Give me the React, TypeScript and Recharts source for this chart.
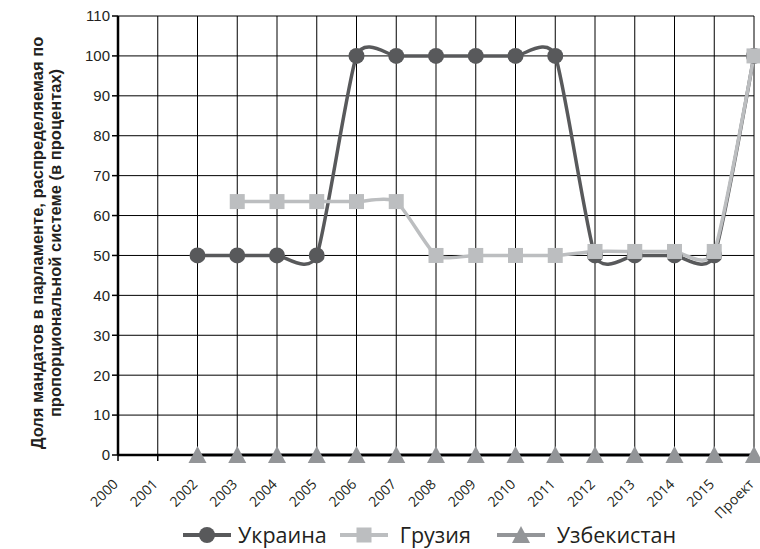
import { LineChart, Line, XAxis, YAxis, CartesianGrid, Legend } from 'recharts';

const years = ['2000', '2001', '2002', '2003', '2004', '2005', '2006', '2007', '2008', '2009', '2010', '2011', '2012', '2013', '2014', '2015', 'Проект'];
const ukraine = [null, null, 50, 50, 50, 50, 100, 100, 100, 100, 100, 100, 50, 50, 50, 50, 100];
const georgia = [null, null, null, 63.5, 63.5, 63.5, 63.5, 63.5, 50, 50, 50, 50, 51, 51, 51, 51, 100];
const uzbekistan = [null, null, 0, 0, 0, 0, 0, 0, 0, 0, 0, 0, 0, 0, 0, 0, 0];
const yTicks = [0, 10, 20, 30, 40, 50, 60, 70, 80, 90, 100, 110];

const data = years.map((year, i) => ({
  year,
  ukraine: ukraine[i],
  georgia: georgia[i],
  uzbekistan: uzbekistan[i],
}));

const series = [
  { key: 'ukraine', name: 'Украина', color: '#58595b', shape: 'circle', gap: 7, after: 13 },
  { key: 'georgia', name: 'Грузия', color: '#bcbec0', shape: 'square', gap: 12, after: 26 },
  { key: 'uzbekistan', name: 'Узбекистан', color: '#939598', shape: 'triangle', gap: 12, after: 0 },
];

// smoothed line like the spreadsheet one (cardinal spline, a little tension)
function smooth(tension: number) {
  const k = (1 - tension) / 6;
  return (ctx: any) => {
    let x0 = NaN, y0 = NaN, x1 = NaN, y1 = NaN, x2 = NaN, y2 = NaN, pt = 0, line: number = NaN;
    const bez = (x: number, y: number) =>
      ctx.bezierCurveTo(x1 + k * (x2 - x0), y1 + k * (y2 - y0), x2 + k * (x1 - x), y2 + k * (y1 - y), x2, y2);
    return {
      areaStart() { line = 0; },
      areaEnd() { line = NaN; },
      lineStart() { x0 = x1 = x2 = y0 = y1 = y2 = NaN; pt = 0; },
      lineEnd() {
        if (pt === 2) ctx.lineTo(x2, y2);
        else if (pt === 3) bez(x1, y1);
        if (line || (line !== 0 && pt === 1)) ctx.closePath();
        line = 1 - line;
      },
      point(x: number, y: number) {
        x = +x; y = +y;
        if (pt === 0) { pt = 1; line ? ctx.lineTo(x, y) : ctx.moveTo(x, y); }
        else if (pt === 1) { pt = 2; x1 = x; y1 = y; }
        else { pt = 3; bez(x, y); }
        x0 = x1; x1 = x2; x2 = x;
        y0 = y1; y1 = y2; y2 = y;
      },
    };
  };
}

function Marker({ shape, color, cx, cy }: { shape: string; color: string; cx: number; cy: number }) {
  if (shape === 'circle') return <circle cx={cx} cy={cy} r={8} fill={color} />;
  if (shape === 'square') return <rect x={cx - 7.5} y={cy - 7.5} width={15} height={15} fill={color} />;
  return <path d={`M${cx},${cy - 9} L${cx + 9},${cy + 8} L${cx - 9},${cy + 8} Z`} fill={color} />;
}

function makeDot(shape: string, color: string) {
  return (props: any) => {
    const { cx, cy, index, value } = props;
    if (cy == null || value == null || isNaN(cy)) return <g key={index} />;
    return <Marker key={index} shape={shape} color={color} cx={cx} cy={cy} />;
  };
}

function XTick({ x, y, payload }: any) {
  return (
    <g transform={`translate(${x + 1},${y + 22})`}>
      <text textAnchor="end" transform="rotate(-45)" fontFamily="Open Sans" fontSize={14} fill="#231f20">
        {payload.value}
      </text>
    </g>
  );
}

function YTitle() {
  return (
    <text transform="translate(43,243) rotate(-90)" textAnchor="middle" fontFamily="Liberation Sans" fontWeight="bold" fontSize={16.5} fill="#231f20">
      <tspan x={0} dy={0}>Доля мандатов в парламенте, распределяемая  по</tspan>
      <tspan x={0} dy={18}>пропорциональной системе (в процентах)</tspan>
    </text>
  );
}

function LegendBox() {
  return (
    <div style={{ display: 'flex', alignItems: 'center', height: 37, paddingTop: 8, paddingLeft: 183, boxSizing: 'border-box' }}>
      {series.map((s) => (
        <div key={s.key} style={{ display: 'flex', alignItems: 'center', marginRight: s.after }}>
          <svg width={48} height={20} style={{ display: 'block' }}>
            <line x1={0} y1={10} x2={48} y2={10} stroke={s.color} strokeWidth={4} />
            <Marker shape={s.shape} color={s.color} cx={24} cy={10} />
          </svg>
          <span style={{ fontFamily: 'Open Sans', fontSize: 21.5, color: '#231f20', marginLeft: s.gap, whiteSpace: 'nowrap' }}>
            {s.name}
          </span>
        </div>
      ))}
    </div>
  );
}

export default function App() {
  return (
    <div style={{ position: 'absolute', left: 0, top: 0, background: '#fff' }}>
      <LineChart width={760} height={549} data={data} margin={{ top: 16, right: 6, bottom: 0, left: 58 }}>
        <CartesianGrid stroke="#000" strokeWidth={1} />
        <XAxis
          dataKey="year"
          interval={0}
          height={57}
          tick={<XTick />}
          tickSize={6}
          tickLine={{ stroke: '#000', strokeWidth: 1.5 }}
          axisLine={{ stroke: '#000', strokeWidth: 2.5 }}
          padding={{ left: 0, right: 0 }}
        />
        <YAxis
          width={60}
          domain={[0, 110]}
          ticks={yTicks}
          interval={0}
          tickSize={6}
          tickLine={{ stroke: '#000', strokeWidth: 1.5 }}
          axisLine={{ stroke: '#000', strokeWidth: 2.5 }}
          tick={{ fontFamily: 'Liberation Sans', fontSize: 15, fill: '#231f20' }}
          label={<YTitle />}
        />
        <Legend
          verticalAlign="bottom"
          align="left"
          wrapperStyle={{ left: 0, width: 760 }}
          content={<LegendBox />}
        />
        {series.map((s) => (
          <Line
            key={s.key}
            dataKey={s.key}
            name={s.name}
            type={smooth(0.4) as any}
            stroke={s.color}
            strokeWidth={3.5}
            dot={makeDot(s.shape, s.color)}
            activeDot={false}
            isAnimationActive={false}
          />
        ))}
      </LineChart>
    </div>
  );
}
